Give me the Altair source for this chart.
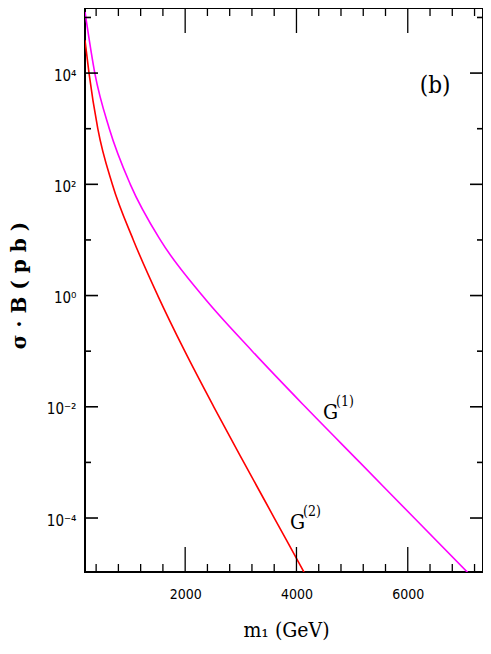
import altair as alt
import pandas as pd

# ---- data (decade crossings of each curve) ----
g1_mass = [200, 376, 637, 1014, 1553, 2308, 3206, 4158, 5138, 6117, 7097]
g1_xsec = [1.26e5, 1.0e4, 1.0e3, 1.0e2, 10, 1.0, 0.1, 1.0e-2, 1.0e-3, 1.0e-4, 1.0e-5]

g2_mass = [200, 272, 430, 691, 1068, 1508, 1993, 2514, 3054, 3602, 4150]
g2_xsec = [3.9e4, 1.0e4, 1.0e3, 1.0e2, 10, 1.0, 0.1, 1.0e-2, 1.0e-3, 1.0e-4, 1.0e-5]

series_names = ["G1", "G2"]
series_colors = ["#ff00ff", "#ff0000"]

x_major = [2000, 4000, 6000]
x_minor = [400, 800, 1200, 1600, 2400, 2800, 3200, 3600, 4400, 4800, 5200, 5600, 6400, 6800, 7200]
y_major = [1e-4, 1e-2, 1, 1e2, 1e4]
y_major_labels = ["10⁻⁴", "10⁻²", "10⁰", "10²", "10⁴"]
y_minor = [1e-3, 1e-1, 10, 1e3, 1e5]

label_base = ["G", "G"]
label_sup = ["(1)", "(2)"]
label_mass = [4477, 3884]
label_xsec = [6.1e-3, 6.3e-5]

panel_text = ["(b)"]
panel_mass = [6490]
panel_xsec = [5.8e3]

W, H = 398, 564
X_DOMAIN = [200, 7352]
Y_DOMAIN = [1.07e-5, 1.48e5]

TICK_FONT = "DejaVu Sans Condensed, Liberation Sans Narrow, DejaVu Sans"
SERIF = "DejaVu Serif Condensed, Liberation Serif, DejaVu Serif"

# ---- tables ----
lines = pd.DataFrame(
    {"m": g1_mass + g2_mass,
     "v": g1_xsec + g2_xsec,
     "s": [series_names[0]] * len(g1_mass) + [series_names[1]] * len(g2_mass)}
)
xmaj = pd.DataFrame({"m": x_major})
xmin = pd.DataFrame({"m": x_minor})
ymaj = pd.DataFrame({"v": y_major})
ymin = pd.DataFrame({"v": y_minor})
labels = pd.DataFrame({"t": label_base, "u": label_sup, "m": label_mass, "v": label_xsec})
panel = pd.DataFrame({"t": panel_text, "m": panel_mass, "v": panel_xsec})

xscale = alt.Scale(domain=X_DOMAIN, nice=False, zero=False)
yscale = alt.Scale(type="log", domain=Y_DOMAIN, nice=False)

label_expr = " : ".join(
    f"datum.value == {v!r} ? '{l}'" for v, l in zip(y_major, y_major_labels)
) + " : ''"

xaxis = alt.Axis(
    values=x_major, format="d", grid=False, ticks=False, tickSize=0, domain=False,
    labelFont=TICK_FONT, labelFontSize=14, labelColor="black", labelPadding=15,
    title="m₁ (GeV)", titleFont=SERIF, titleFontSize=21, titleFontWeight="normal",
    titleColor="black", titleX=201, titleY=58, titleAlign="center", titleBaseline="middle",
)
yaxis = alt.Axis(
    values=y_major, labelExpr=label_expr, grid=False, ticks=False, tickSize=0, domain=False,
    labelFont=TICK_FONT, labelFontSize=15, labelColor="black", labelPadding=9,
    labelOffset=2,
    title="σ · B   ( p b )", titleFont="DejaVu Serif, Liberation Serif", titleFontSize=20,
    titleFontWeight="bold", titleColor="black", titleX=-66, titleY=277, titleAngle=270,
    titleAlign="center", titleBaseline="middle",
)

X = lambda: alt.X("m:Q", scale=xscale, axis=xaxis)
Y = lambda: alt.Y("v:Q", scale=yscale, axis=yaxis)

curves = alt.Chart(lines).mark_line(strokeWidth=1.6, clip=True, interpolate="monotone").encode(
    x=X(), y=Y(),
    color=alt.Color("s:N", scale=alt.Scale(domain=series_names, range=series_colors), legend=None),
    detail="s:N",
)

def xticks(df, length):
    bot = alt.Chart(df).mark_rule(color="black", strokeWidth=1.3).encode(
        x=X(), y=alt.value(H), y2=alt.value(H - length))
    top = alt.Chart(df).mark_rule(color="black", strokeWidth=1.3).encode(
        x=X(), y=alt.value(0), y2=alt.value(length))
    return [bot, top]

def yticks(df, length):
    left = alt.Chart(df).mark_rule(color="black", strokeWidth=1.6).encode(
        y=Y(), x=alt.value(0), x2=alt.value(length))
    right = alt.Chart(df).mark_rule(color="black", strokeWidth=1.6).encode(
        y=Y(), x=alt.value(W), x2=alt.value(W - length))
    return [left, right]

gbase = alt.Chart(labels).mark_text(
    align="left", baseline="alphabetic", font=SERIF, fontSize=21, color="black"
).encode(x=X(), y=Y(), text="t:N")

gsup = alt.Chart(labels).mark_text(
    align="left", baseline="alphabetic", font=SERIF, fontSize=14, color="black", dx=13, dy=-13
).encode(x=X(), y=Y(), text="u:N")

plabel = alt.Chart(panel).mark_text(
    align="center", baseline="middle", font=SERIF, fontSize=24, color="black"
).encode(x=X(), y=Y(), text="t:N")

chart = alt.layer(
    curves,
    *xticks(xmaj, 25), *xticks(xmin, 8),
    *yticks(ymaj, 13), *yticks(ymin, 6),
    gbase, gsup, plabel,
).properties(
    width=W, height=H,
    autosize=alt.AutoSizeParams(type="none"),
    padding={"left": 77, "top": 0, "right": 0, "bottom": 74},
).configure(
    background="white",
    view=alt.ViewConfig(stroke="black", strokeWidth=2),
)

chart.save("out.html", embed_options={"renderer": "svg", "actions": False})
